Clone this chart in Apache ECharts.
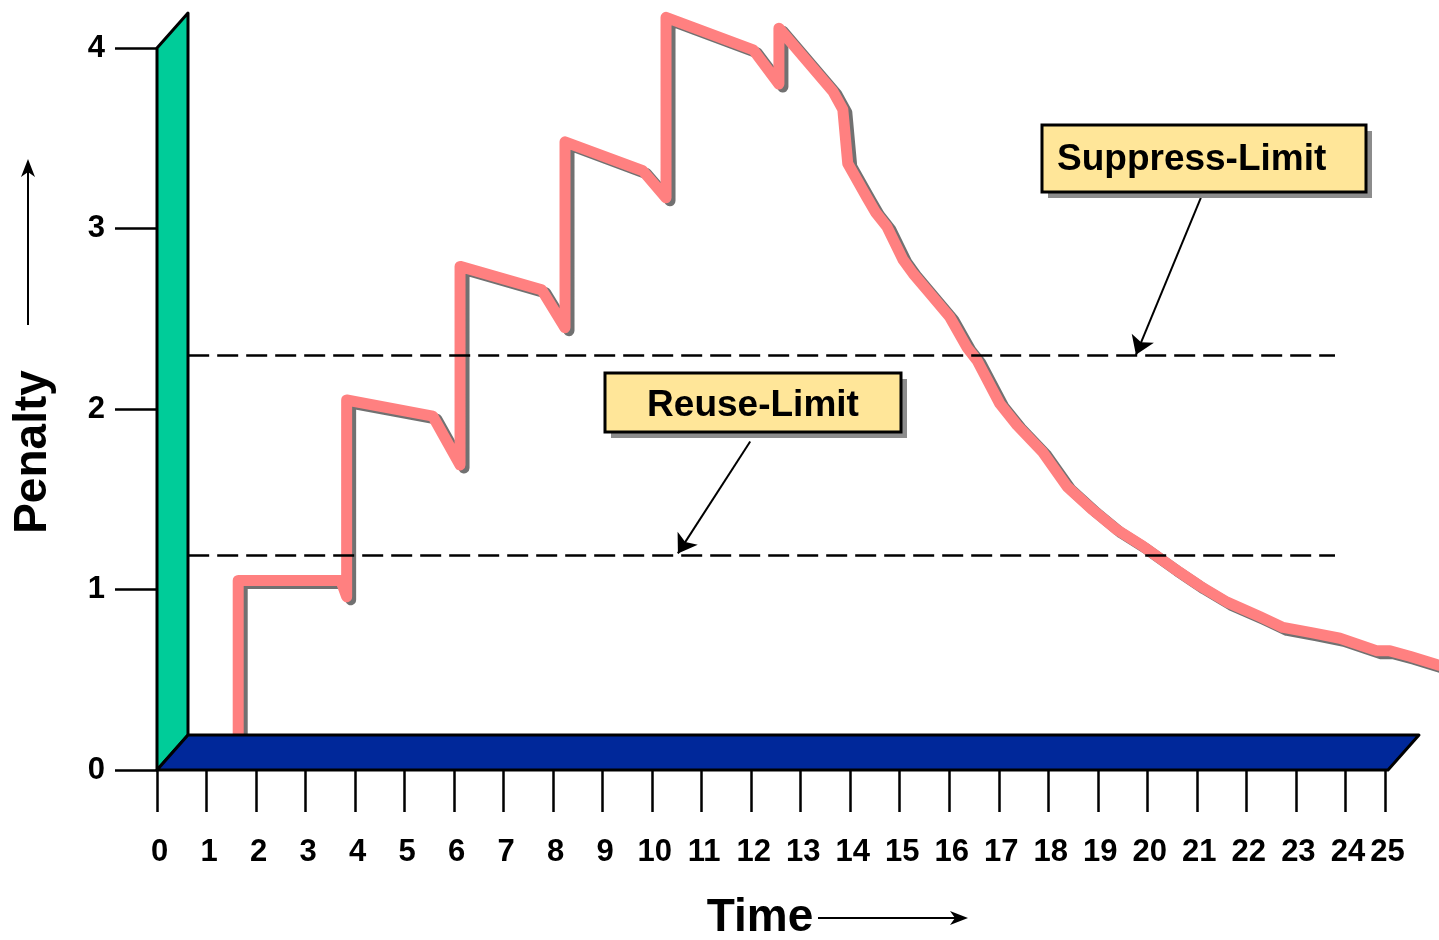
<!DOCTYPE html>
<html>
<head>
<meta charset="utf-8">
<script src="https://cdn.jsdelivr.net/npm/echarts@6/dist/echarts.min.js"></script>
<style>
html,body{margin:0;padding:0;background:#fff;}
#main{width:1439px;height:940px;}
</style>
</head>
<body>
<div id="main"></div>
<script>
// ---- data ----
var xTickLabels = ['0','1','2','3','4','5','6','7','8','9','10','11','12','13','14','15','16','17','18','19','20','21','22','23','24','25'];
var yTickLabels = ['0','1','2','3','4'];
var penaltyX = [1.64,1.64,3.71,3.83,3.83,5.57,6.12,6.12,7.77,8.24,8.24,9.81,10.28,10.28,12.04,12.56,12.56,13.65,13.85,13.95,14.34,14.51,14.74,15.06,15.27,15.61,16.01,16.36,16.56,17.02,17.37,17.89,18.38,18.90,19.39,19.91,20.52,21.06,21.61,22.27,22.74,23.34,23.89,24.64,24.90,25.30,25.89];
var penaltyY = [0.1,1.05,1.05,0.96,2.05,1.96,1.69,2.79,2.66,2.45,3.48,3.32,3.17,4.17,3.99,3.80,4.11,3.76,3.66,3.36,3.17,3.09,3.01,2.83,2.75,2.64,2.51,2.34,2.27,2.03,1.91,1.76,1.57,1.44,1.33,1.24,1.12,1.02,0.93,0.85,0.79,0.76,0.73,0.66,0.66,0.63,0.58];
var suppressLimit = 2.30;
var reuseLimit = 1.19;
var limitStartX = 0.63;
var limitEndX = 23.79;
var suppressArrow = [[21.08, 3.17], [19.77, 2.30]];
var reuseArrow = [[11.98, 1.82], [10.52, 1.20]];
var suppressLabel = 'Suppress-Limit';
var reuseLabel = 'Reuse-Limit';
var xName = 'Time';
var yName = 'Penalty';
var xMin = 0, xMax = 24.8, yMin = 0, yMax = 4;

// ---- build ----
var penaltyData = penaltyX.map(function(x, i){ return [x, penaltyY[i]]; });
var FONT = '"Liberation Sans", Arial, Helvetica, sans-serif';
var depth = [31, -35];

var chart = echarts.init(document.getElementById('main'));
var option = {
  backgroundColor: '#ffffff',
  animation: false,
  grid: { left: 157, right: 54, top: 48, bottom: 170, outerBoundsMode: 'none', containLabel: false },
  xAxis: {
    type: 'value', min: xMin, max: xMax, interval: 1,
    axisLine: { show: false },
    axisTick: { show: true, length: 42, lineStyle: { color: '#000', width: 2.5 } },
    splitLine: { show: false },
    axisLabel: {
      show: true, margin: 67, color: '#000', fontSize: 31, fontWeight: 'bold', fontFamily: FONT,
      padding: [0, 0, 0, 5],
      showMinLabel: true, showMaxLabel: true,
      formatter: function(v){ return xTickLabels[Math.round(v)]; }
    }
  },
  yAxis: {
    type: 'value', min: yMin, max: yMax, interval: 1,
    axisLine: { show: false },
    axisTick: { show: true, length: 42, lineStyle: { color: '#000', width: 2.5 } },
    splitLine: { show: false },
    axisLabel: {
      show: true, margin: 52, color: '#000', fontSize: 31, fontWeight: 'bold', fontFamily: FONT,
      formatter: function(v){ return yTickLabels[Math.round(v)]; }
    }
  },
  series: [
    {
      type: 'custom', name: 'penalty', z: 2, clip: false, silent: true,
      data: penaltyData,
      encode: { x: 0, y: 1 },
      renderItem: function(params, api){
        if (params.dataIndex !== 0) { return null; }
        var pts = penaltyData.map(function(p){ return api.coord(p); });
        return {
          type: 'polyline',
          shape: { points: pts },
          style: { fill: null, stroke: '#FF8080', lineWidth: 11, lineCap: 'round', lineJoin: 'round',
            shadowColor: 'rgba(105,105,105,0.95)', shadowBlur: 0, shadowOffsetX: 4, shadowOffsetY: 3 }
        };
      }
    },
    {
      type: 'custom', name: 'frame', z: 3, clip: false, silent: true,
      data: [[0, 0]],
      renderItem: function(params, api){
        var o = api.coord([xMin, yMin]);
        var t = api.coord([xMin, yMax]);
        var r = api.coord([xMax, yMin]);
        var dx = depth[0], dy = depth[1];
        return { type: 'group', children: [
          { type: 'polygon', shape: { points: [o, t, [t[0]+dx, t[1]+dy], [o[0]+dx, o[1]+dy]] },
            style: { fill: '#00CC99', stroke: '#000', lineWidth: 3, lineJoin: 'round' } },
          { type: 'polygon', shape: { points: [o, [r[0]+3, r[1]], [r[0]+3+dx, r[1]+dy], [o[0]+dx, o[1]+dy]] },
            style: { fill: '#00289A', stroke: '#000', lineWidth: 3, lineJoin: 'round' } }
        ]};
      }
    },
    {
      type: 'lines', name: 'limits', coordinateSystem: 'cartesian2d', z: 4, silent: true,
      symbol: ['none', 'none'],
      lineStyle: { color: '#000', width: 2.5, type: [21, 8], opacity: 1, curveness: 0 },
      data: [
        { coords: [[limitStartX, suppressLimit], [limitEndX, suppressLimit]] },
        { coords: [[limitStartX, reuseLimit], [limitEndX, reuseLimit]] }
      ]
    },
    {
      type: 'lines', name: 'pointers', coordinateSystem: 'cartesian2d', z: 5, silent: true,
      symbol: ['none', 'arrow'], symbolSize: [13, 18],
      lineStyle: { color: '#000', width: 2, opacity: 1, curveness: 0 },
      data: [
        { coords: suppressArrow },
        { coords: reuseArrow }
      ]
    }
  ],
  graphic: [
    // Suppress-Limit box
    { type: 'rect', z: 10, shape: { x: 1048, y: 131, width: 324, height: 67 }, style: { fill: '#8c8c8c' } },
    { type: 'rect', z: 11, shape: { x: 1042, y: 125, width: 324, height: 67 }, style: { fill: '#FFE699', stroke: '#000', lineWidth: 3 } },
    { type: 'text', z: 12, x: 1057, y: 160, style: { text: suppressLabel, fill: '#000', font: 'bold 37px ' + FONT, align: 'left', verticalAlign: 'middle' } },
    // Reuse-Limit box
    { type: 'rect', z: 10, shape: { x: 611, y: 379, width: 296, height: 59 }, style: { fill: '#8c8c8c' } },
    { type: 'rect', z: 11, shape: { x: 605, y: 373, width: 296, height: 59 }, style: { fill: '#FFE699', stroke: '#000', lineWidth: 3 } },
    { type: 'text', z: 12, x: 753, y: 406, style: { text: reuseLabel, fill: '#000', font: 'bold 37px ' + FONT, align: 'center', verticalAlign: 'middle' } },
    // axis names
    { type: 'text', z: 12, x: 760, y: 918, style: { text: xName, fill: '#000', font: 'bold 46px ' + FONT, align: 'center', verticalAlign: 'middle' } },
    { type: 'line', z: 12, shape: { x1: 818, y1: 918, x2: 962, y2: 918 }, style: { stroke: '#000', lineWidth: 2 } },
    { type: 'polygon', z: 12, shape: { points: [[968, 918], [950, 911], [955, 918], [950, 925]] }, style: { fill: '#000' } },
    { type: 'text', z: 12, x: 33, y: 452, rotation: Math.PI / 2, style: { text: yName, fill: '#000', font: 'bold 46px ' + FONT, align: 'center', verticalAlign: 'middle' } },
    { type: 'line', z: 12, shape: { x1: 28, y1: 325, x2: 28, y2: 166 }, style: { stroke: '#000', lineWidth: 2 } },
    { type: 'polygon', z: 12, shape: { points: [[28, 159], [21, 177], [28, 172], [35, 177]] }, style: { fill: '#000' } }
  ]
};
chart.setOption(option);
</script>
</body>
</html>
